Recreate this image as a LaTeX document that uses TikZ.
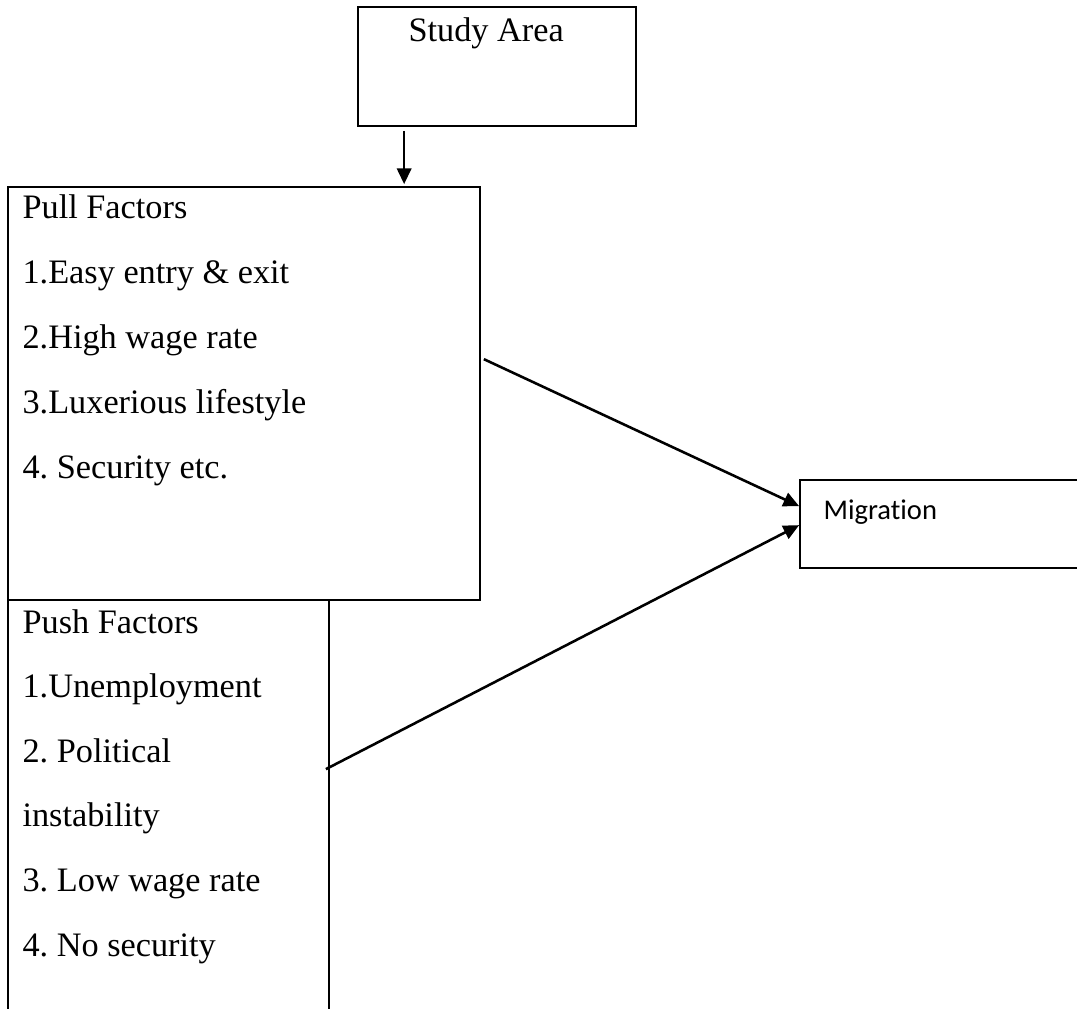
\documentclass[tikz,border=0pt]{standalone}
\usepackage{fontspec}
\setmainfont{Liberation Serif}
\newfontfamily\calibrifont[Ligatures=NoCommon]{Carlito}
\usetikzlibrary{arrows.meta,positioning,fit,calc}
\frenchspacing

\begin{document}
\begin{tikzpicture}[x=0.35pt,y=-0.35pt,font=\fontsize{12}{14}\selectfont,
  box/.style={draw,line width=0.6pt,inner sep=0pt},
  arr/.style={line width=0.9pt,-{Triangle[length=5.5pt,width=5pt]}},
  txt/.style={anchor=base west,inner sep=0pt}]
\useasboundingbox (0,0) rectangle (1077,1008);
\clip (0,0) rectangle (1077,1008);
% boxes
\node[box,fit={(358,7) (636,126)}] (study) {};
\node[box,fit={(8,187) (480,600)}] (pull) {};
\node[box,fit={(8,600) (329,1030)}] (push) {};
\node[box,fit={(800,480) (1100,568)}] (mig) {};
% texts
\node[txt] (studytxt) at (408,41) {Study Area};
\foreach \t [count=\i] in {Pull Factors,1.Easy entry \& exit,2.High wage rate,3.Luxerious lifestyle,4. Security etc.}
  \node[txt] (pull\i) at (22,{218+65*(\i-1)}) {\t};
\foreach \t [count=\i] in {Push Factors,1.Unemployment,2. Political,instability,3. Low wage rate,4. No security}
  \node[txt] (push\i) at (22,{633+64.6*(\i-1)}) {\t};
\node[txt,font=\calibrifont\fontsize{10}{12}\selectfont] (migtxt) at (823,519) {Migration};
% arrows
\draw[arr] ($(study.south west)+(47,4)$) -- ($(pull.north west)+(397,-2)$);
\draw[arr] ($(pull.north east)+(3,173)$) -- ($(mig.north west)+(0,27)$);
\draw[arr] ($(push.north east)+(-4,170)$) -- ($(mig.north west)+(0,46)$);
\end{tikzpicture}
\end{document}
